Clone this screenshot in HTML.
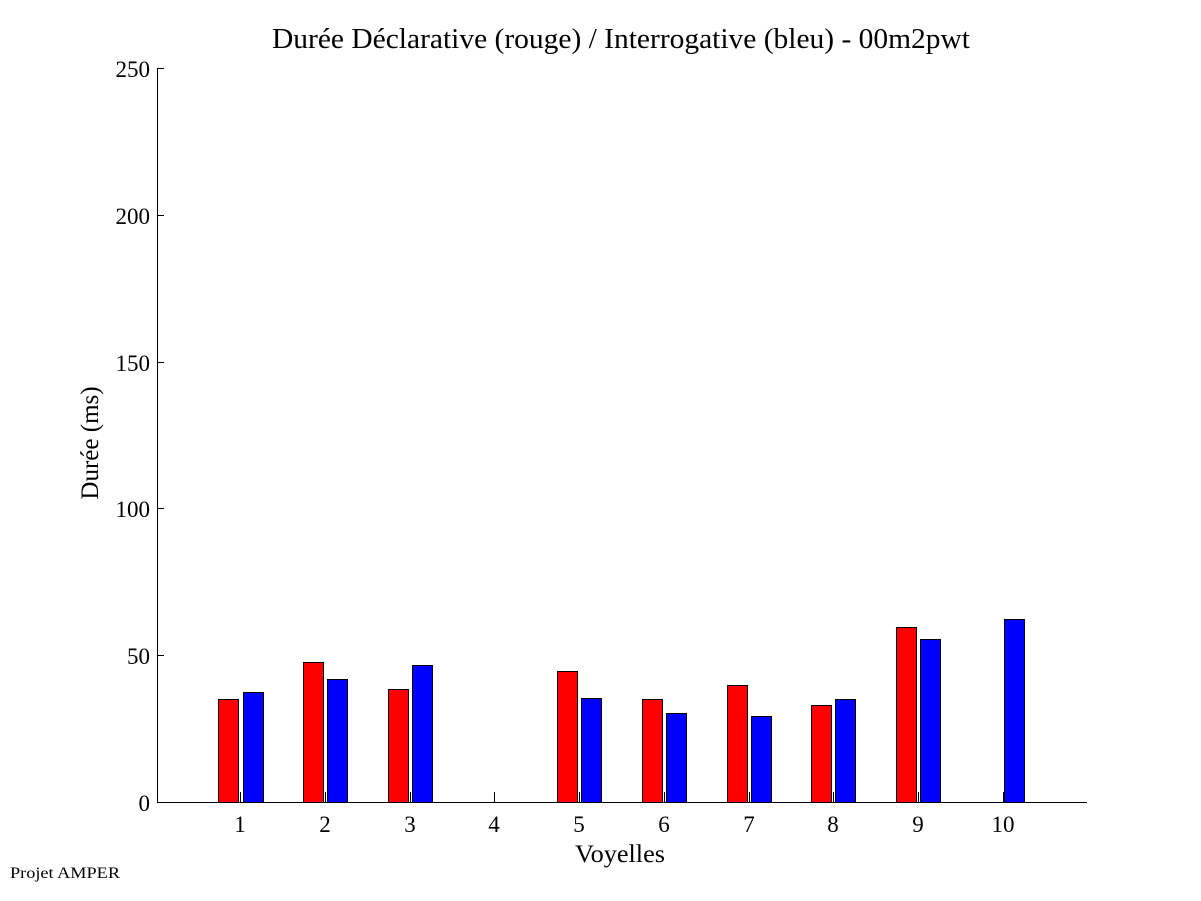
<!DOCTYPE html>
<html><head><meta charset="utf-8"><style>body{margin:0;background:#fff}svg{display:block}</style></head><body>
<svg width="1201" height="901" xmlns="http://www.w3.org/2000/svg" font-family="Liberation Serif, serif">
<rect width="1201" height="901" fill="#fff"/>
<text x="272" y="48" font-size="28" textLength="698" lengthAdjust="spacingAndGlyphs">Durée Déclarative (rouge) / Interrogative (bleu) - 00m2pwt</text>
<g stroke="#000" stroke-width="1">
<line x1="157.5" y1="68" x2="157.5" y2="802"/>
<line x1="157" y1="802.5" x2="1087" y2="802.5"/>
<line x1="157" y1="68.5" x2="164" y2="68.5"/>
<line x1="157" y1="215.5" x2="164" y2="215.5"/>
<line x1="157" y1="362.5" x2="164" y2="362.5"/>
<line x1="157" y1="508.5" x2="164" y2="508.5"/>
<line x1="157" y1="655.5" x2="164" y2="655.5"/>
</g>
<g font-size="23" text-anchor="end">
<text x="150" y="77">250</text><text x="150" y="224">200</text><text x="150" y="371">150</text><text x="150" y="517">100</text><text x="150" y="664">50</text><text x="150" y="811">0</text>
</g>
<text transform="translate(98,443) rotate(-90)" font-size="25" text-anchor="middle">Durée (ms)</text>
<g stroke="#000" stroke-width="1">
<rect x="218.5" y="699.5" width="20" height="103" fill="#f00"/><rect x="243.5" y="692.5" width="20" height="110" fill="#00f"/>
<rect x="303.5" y="662.5" width="20" height="140" fill="#f00"/><rect x="327.5" y="679.5" width="20" height="123" fill="#00f"/>
<rect x="388.5" y="689.5" width="20" height="113" fill="#f00"/><rect x="412.5" y="665.5" width="20" height="137" fill="#00f"/>
<rect x="557.5" y="671.5" width="20" height="131" fill="#f00"/><rect x="581.5" y="698.5" width="20" height="104" fill="#00f"/>
<rect x="642.5" y="699.5" width="20" height="103" fill="#f00"/><rect x="666.5" y="713.5" width="20" height="89" fill="#00f"/>
<rect x="727.5" y="685.5" width="20" height="117" fill="#f00"/><rect x="751.5" y="716.5" width="20" height="86" fill="#00f"/>
<rect x="811.5" y="705.5" width="20" height="97" fill="#f00"/><rect x="835.5" y="699.5" width="20" height="103" fill="#00f"/>
<rect x="896.5" y="627.5" width="20" height="175" fill="#f00"/><rect x="920.5" y="639.5" width="20" height="163" fill="#00f"/>
<rect x="1004.5" y="619.5" width="20" height="183" fill="#00f"/>
</g>
<g stroke="#000" stroke-width="1">
<line x1="240.5" y1="792" x2="240.5" y2="802"/><line x1="325.5" y1="792" x2="325.5" y2="802"/><line x1="410.5" y1="792" x2="410.5" y2="802"/><line x1="494.5" y1="792" x2="494.5" y2="802"/><line x1="579.5" y1="792" x2="579.5" y2="802"/><line x1="664.5" y1="792" x2="664.5" y2="802"/><line x1="749.5" y1="792" x2="749.5" y2="802"/><line x1="833.5" y1="792" x2="833.5" y2="802"/><line x1="918.5" y1="792" x2="918.5" y2="802"/><line x1="1003.5" y1="792" x2="1003.5" y2="802"/>
</g>
<g font-size="23" text-anchor="middle">
<text x="240" y="832">1</text><text x="325" y="832">2</text><text x="410" y="832">3</text><text x="494" y="832">4</text><text x="579" y="832">5</text><text x="664" y="832">6</text><text x="749" y="832">7</text><text x="833" y="832">8</text><text x="918" y="832">9</text><text x="1003" y="832">10</text>
</g>
<text x="575" y="862" font-size="25" textLength="90" lengthAdjust="spacingAndGlyphs">Voyelles</text>
<text x="10" y="878" font-size="16" textLength="110" lengthAdjust="spacingAndGlyphs">Projet AMPER</text>
</svg>
</body></html>
